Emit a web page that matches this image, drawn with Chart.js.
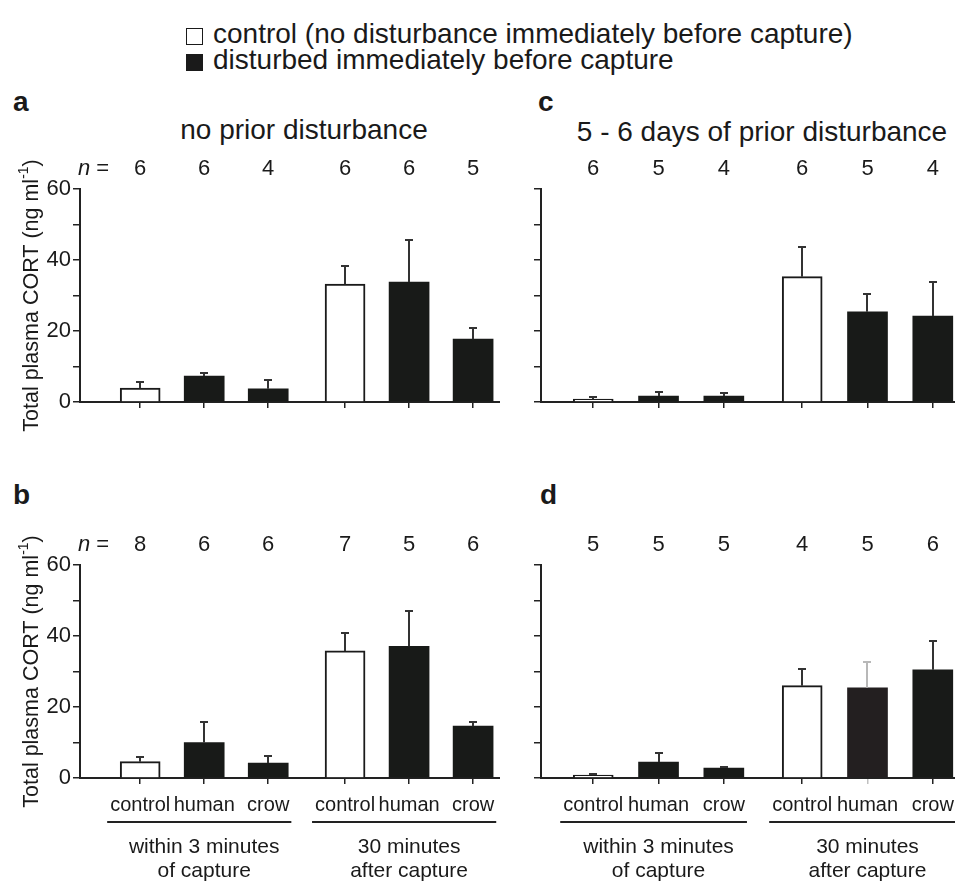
<!DOCTYPE html>
<html>
<head>
<meta charset="utf-8">
<script src="https://cdn.jsdelivr.net/npm/chart.js@4.4.1/dist/chart.umd.min.js"></script>
<style>
  body { margin: 0; background: #fff; width: 955px; height: 881px; position: relative; overflow: hidden;
         font-family: 'Liberation Sans', Arial, sans-serif; color: #1a1a1a; }
  .t { position: absolute; line-height: 1; white-space: nowrap; }
  .box { position: absolute; width: 17px; height: 17px; box-sizing: border-box; border: 1.5px solid #1a1a1a; }
  .panel { position: absolute; }
</style>
</head>
<body>

<div class="box" style="left:186px; top:28px; background:#fff;"></div>
<div class="t" style="left:213px; top:20px; font-size:28px;">control (no disturbance immediately before capture)</div>
<div class="box" style="left:186px; top:54px; background:#1a1a1a;"></div>
<div class="t" style="left:213px; top:46px; font-size:28px;">disturbed immediately before capture</div>

<div class="t" style="left:13px; top:88px; font-size:28px; font-weight:bold;">a</div>
<div class="t" style="left:538px; top:88px; font-size:28px; font-weight:bold;">c</div>
<div class="t" style="left:13px; top:481px; font-size:28px; font-weight:bold;">b</div>
<div class="t" style="left:540px; top:481px; font-size:28px; font-weight:bold;">d</div>

<div class="t" style="left:104px; width:400px; text-align:center; top:116px; font-size:28px;">no prior disturbance</div>
<div class="t" style="left:562px; width:400px; text-align:center; top:118px; font-size:28px;">5 - 6 days of prior disturbance</div>

<div class="panel" style="left:0; top:140px; width:500px; height:300px;"><canvas id="chart-a"></canvas></div>
<div class="panel" style="left:480px; top:140px; width:475px; height:300px;"><canvas id="chart-c"></canvas></div>
<div class="panel" style="left:0; top:520px; width:500px; height:361px;"><canvas id="chart-b"></canvas></div>
<div class="panel" style="left:480px; top:520px; width:475px; height:361px;"><canvas id="chart-d"></canvas></div>

<script>
// ---- data (ng/ml, mean and upper SE) ----
const categories = ['control', 'human', 'crow', 'control', 'human', 'crow'];
const groupOf = [0, 0, 0, 1, 1, 1];
const groupLabels = [['within 3 minutes', 'of capture'], ['30 minutes', 'after capture']];
const yTickLabels = [0, 20, 40, 60];

// a: no prior disturbance
const meanA = [3.9, 7.3, 3.7, 33.2, 33.8, 17.7];
const errA  = [1.7, 0.9, 2.5, 5.1, 11.8, 3.2];
const nA    = [6, 6, 4, 6, 6, 5];

// c: 5 - 6 days of prior disturbance
const meanC = [0.8, 1.7, 1.7, 35.3, 25.4, 24.2];
const errC  = [0.5, 1.2, 0.7, 8.3, 4.9, 9.5];
const nC    = [6, 5, 4, 6, 5, 4];

// b
const meanB = [4.6, 10.0, 4.2, 35.8, 37.1, 14.6];
const errB  = [1.3, 5.8, 2.0, 5.0, 9.9, 1.2];
const nB    = [8, 6, 6, 7, 5, 6];

// d
const meanD = [0.8, 4.5, 2.8, 26.0, 25.4, 30.5];
const errD  = [0.3, 2.5, 0.3, 4.7, 7.3, 8.1];
const nD    = [5, 5, 5, 4, 5, 6];

const INK = '#1a1a1a';
const FONT = "'Liberation Sans', Arial, sans-serif";
const GROUP_GAP = 0.2;

const xPos = i => i + groupOf[i] * GROUP_GAP;

const panels = [
  { id: 'chart-a', mean: meanA, err: errA, n: nA, yLabels: true,  bottom: false, xMin: -0.94, xMax: 5.62, yW: 80, padTop: 49, xH: 38 },
  { id: 'chart-c', mean: meanC, err: errC, n: nC, yLabels: false, bottom: false, xMin: -0.80, xMax: 5.54, yW: 61, padTop: 49, xH: 38 },
  { id: 'chart-b', mean: meanB, err: errB, n: nB, yLabels: true,  bottom: true,  xMin: -0.94, xMax: 5.62, yW: 80, padTop: 45, xH: 103 },
  { id: 'chart-d', mean: meanD, err: errD, n: nD, yLabels: false, bottom: true,  xMin: -0.80, xMax: 5.54, yW: 61, padTop: 45, xH: 103, soft: 4 }
];

function decor(p) {
  return {
    id: 'decor',
    afterDatasetsDraw(chart) {
      const { ctx, scales: { x, y } } = chart;
      ctx.save();
      ctx.lineWidth = 2;
      p.mean.forEach((m, i) => {
        const px = Math.round(x.getPixelForValue(xPos(i)));
        const y0 = y.getPixelForValue(m);
        const y1 = Math.round(y.getPixelForValue(m + p.err[i]));
        ctx.strokeStyle = p.soft === i ? '#b8b8b8' : '#333';
        ctx.beginPath();
        ctx.moveTo(px, y0); ctx.lineTo(px, y1);
        ctx.moveTo(px - 4, y1); ctx.lineTo(px + 4, y1);
        ctx.stroke();
      });
      ctx.restore();
    },
    afterDraw(chart) {
      const { ctx, chartArea, scales: { x } } = chart;
      ctx.save();
      ctx.fillStyle = INK;
      ctx.textBaseline = 'middle';

      // n per bar
      ctx.font = `22px ${FONT}`;
      ctx.textAlign = 'center';
      const nY = chartArea.top - 20;
      p.n.forEach((v, i) => ctx.fillText(String(v), x.getPixelForValue(xPos(i)), nY));
      if (p.yLabels) {
        ctx.textAlign = 'left';
        ctx.font = `italic 22px ${FONT}`;
        ctx.fillText('n', 78, nY);
        const w = ctx.measureText('n').width;
        ctx.font = `22px ${FONT}`;
        ctx.fillText(' =', 78 + w, nY);

        // rotated y title with superscript
        const main = 'Total plasma CORT (ng ml', sup = '-1', close = ')';
        ctx.font = `21.5px ${FONT}`;
        const wMain = ctx.measureText(main).width, wClose = ctx.measureText(close).width;
        ctx.font = `14px ${FONT}`;
        const wSup = ctx.measureText(sup).width;
        const total = wMain + wSup + wClose;
        ctx.translate(32, (chartArea.top + chartArea.bottom) / 2);
        ctx.rotate(-Math.PI / 2);
        let sx = -total / 2;
        ctx.font = `21.5px ${FONT}`;
        ctx.fillText(main, sx, 0); sx += wMain;
        ctx.font = `14px ${FONT}`;
        ctx.fillText(sup, sx, -8); sx += wSup;
        ctx.font = `21.5px ${FONT}`;
        ctx.fillText(close, sx, 0);
        ctx.setTransform(chart.currentDevicePixelRatio, 0, 0, chart.currentDevicePixelRatio, 0, 0);
      }

      // category + group labels under the bottom panels
      if (p.bottom) {
        const base = chartArea.bottom;
        ctx.font = `20px ${FONT}`;
        ctx.textAlign = 'center';
        const spans = groupLabels.map(() => [Infinity, -Infinity]);
        categories.forEach((c, i) => {
          const cx = x.getPixelForValue(xPos(i));
          const w = ctx.measureText(c).width;
          ctx.fillText(c, cx, base + 27);
          const s = spans[groupOf[i]];
          s[0] = Math.min(s[0], cx - w / 2 - 3);
          s[1] = Math.max(s[1], cx + w / 2 + 2);
        });
        ctx.strokeStyle = '#222';
        ctx.lineWidth = 2;
        ctx.font = `21px ${FONT}`;
        spans.forEach((s, g) => {
          ctx.beginPath();
          ctx.moveTo(s[0], base + 44); ctx.lineTo(Math.min(s[1], chart.width), base + 44);
          ctx.stroke();
          const mid = x.getPixelForValue(xPos(groupOf.indexOf(g) + 1));
          ctx.fillText(groupLabels[g][0], mid, base + 69);
          ctx.fillText(groupLabels[g][1], mid, base + 93);
        });
      }
      ctx.restore();
    }
  };
}

panels.forEach(p => {
  new Chart(document.getElementById(p.id), {
    type: 'bar',
    data: {
      datasets: [{
        data: p.mean.map((m, i) => ({ x: xPos(i), y: m })),
        backgroundColor: categories.map((c, i) => c === 'control' ? '#fff' : (p.soft === i ? '#231f20' : '#181a18')),
        borderColor: categories.map((c, i) => p.soft === i ? '#231f20' : INK),
        borderWidth: categories.map(c => c === 'control' ? 2 : 0),
        borderSkipped: 'start',
        barThickness: 40
      }]
    },
    options: {
      responsive: true,
      maintainAspectRatio: false,
      animation: false,
      layout: { padding: { top: p.padTop, left: 0, right: 0, bottom: 0 } },
      plugins: { legend: { display: false }, tooltip: { enabled: false } },
      scales: {
        x: {
          type: 'linear',
          min: p.xMin,
          max: p.xMax,
          offset: false,
          afterBuildTicks: s => { s.ticks = p.mean.map((m, i) => ({ value: xPos(i) })); },
          afterFit: s => { s.height = p.xH; },
          ticks: { display: false },
          grid: { offset: false, drawOnChartArea: false, drawTicks: true, tickLength: 6, lineWidth: 1.5,
                  color: ctx => ctx.index === p.soft ? '#c0c0c0' : '#222' },
          border: { display: true, color: '#222', width: 2 }
        },
        y: {
          min: 0,
          max: 60,
          afterFit: s => { s.width = p.yW; },
          ticks: {
            stepSize: 10,
            padding: 2,
            color: INK,
            font: { family: FONT, size: 22 },
            callback: v => (p.yLabels && yTickLabels.includes(v)) ? v : ''
          },
          grid: { drawOnChartArea: false, drawTicks: true, tickLength: 7, lineWidth: 1.5, color: '#222' },
          border: { display: true, color: '#222', width: 2 }
        }
      }
    },
    plugins: [decor(p)]
  });
});
</script>
</body>
</html>
